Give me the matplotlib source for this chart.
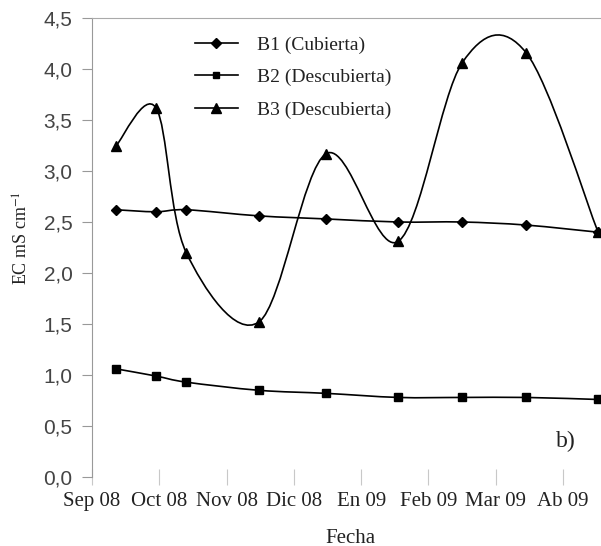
import numpy as np
import matplotlib
matplotlib.use('Agg')
import matplotlib.pyplot as plt
from matplotlib.path import Path
from matplotlib.patches import PathPatch
from matplotlib.lines import Line2D

# Month tick labels (category positions 0..7)
months = ['Sep 08', 'Oct 08', 'Nov 08', 'Dic 08', 'En 09', 'Feb 09', 'Mar 09', 'Ab 09']

# Sampling dates, expressed in months from Sep 08
fechas = [0.36, 0.95, 1.40, 2.48, 3.48, 4.55, 5.50, 6.45, 7.52]

# EC values (mS cm-1)
b1_cubierta = [2.62, 2.60, 2.62, 2.56, 2.53, 2.50, 2.50, 2.47, 2.40]
b2_descubierta = [1.06, 0.99, 0.93, 0.85, 0.82, 0.78, 0.78, 0.78, 0.76]
b3_descubierta = [3.25, 3.62, 2.20, 1.52, 3.17, 2.31, 4.06, 4.16, 2.40]

SERIF = 'Liberation Serif'
SANS = 'Liberation Sans'
plt.rcParams['mathtext.fontset'] = 'stix'


# Smoothed line like a spreadsheet "smoothed line" (Catmull-Rom as Bezier)
def smooth_path(x, y):
    pts = np.column_stack([x, y])
    n = len(pts)
    verts = [pts[0]]
    codes = [Path.MOVETO]
    for i in range(n - 1):
        p0 = pts[i - 1] if i > 0 else pts[i]
        p1 = pts[i]
        p2 = pts[i + 1]
        p3 = pts[i + 2] if i + 2 < n else pts[i + 1]
        c1 = p1 + (p2 - p0) / 6.0
        c2 = p2 - (p3 - p1) / 6.0
        verts += [c1, c2, p2]
        codes += [Path.CURVE4] * 3
    return Path(verts, codes)


fig = plt.figure(figsize=(6.01, 5.46), dpi=100)
ax = fig.add_axes([92 / 601, 69 / 546, 509 / 601, 459 / 546])

series = [
    (b1_cubierta, 'D', 5.5, 'B1 (Cubierta)'),
    (b2_descubierta, 's', 5.5, 'B2 (Descubierta)'),
    (b3_descubierta, '^', 7, 'B3 (Descubierta)'),
]

handles = []
for vals, mk, ms, lab in series:
    patch = PathPatch(smooth_path(fechas, vals), facecolor='none',
                      edgecolor='black', lw=1.2, clip_on=False)
    ax.add_patch(patch)
    ax.plot(fechas, vals, linestyle='none', marker=mk, markersize=ms,
            color='black', clip_on=False, zorder=3)
    handles.append(Line2D([], [], color='black', lw=1.2, marker=mk,
                          markersize=ms - 0.5, label=lab))

ax.set_xlim(0, 509 / 67.3)
ax.set_ylim(0, 4.5)

ax.set_xticks(range(len(months)))
ax.set_xticklabels(months, fontsize=15, family=SERIF, color='#222222')
yt = np.arange(0, 4.51, 0.5)
ax.set_yticks(yt)
ax.set_yticklabels([f'{v:.1f}'.replace('.', ',') for v in yt],
                   fontsize=15, family=SANS, color='#444444')

ax.tick_params(axis='x', direction='inout', length=12, color='#c8c8c8',
               pad=5)
ax.tick_params(axis='y', direction='out', length=7, color='#999999',
               pad=7)

for s in ['right', 'bottom']:
    ax.spines[s].set_visible(False)
ax.spines['left'].set_color('#999999')
ax.spines['top'].set_color('#aaaaaa')

ax.set_ylabel('EC mS cm$^{-1}$', fontsize=13, family=SERIF, color='#222222')
ax.yaxis.set_label_coords(-0.1375, 0.52)
ax.yaxis.label.set_verticalalignment('center')

ax.set_xlabel('Fecha', fontsize=15, family=SERIF, color='#222222')
ax.xaxis.set_label_coords(0.507, -0.133)
ax.xaxis.label.set_verticalalignment('center')

ax.text(0.931, 0.078, 'b)', transform=ax.transAxes, fontsize=17,
        family=SERIF, ha='center', va='center', color='#222222')

leg = ax.legend(handles=handles, loc='upper left',
                bbox_to_anchor=(0.202, 0.96), frameon=False,
                prop={'family': SERIF, 'size': 14}, handlelength=2.2,
                handletextpad=1.0, labelspacing=0.75, borderpad=0,
                borderaxespad=0)
for t in leg.get_texts():
    t.set_color('#222222')

fig.savefig('out.png', dpi=100)
